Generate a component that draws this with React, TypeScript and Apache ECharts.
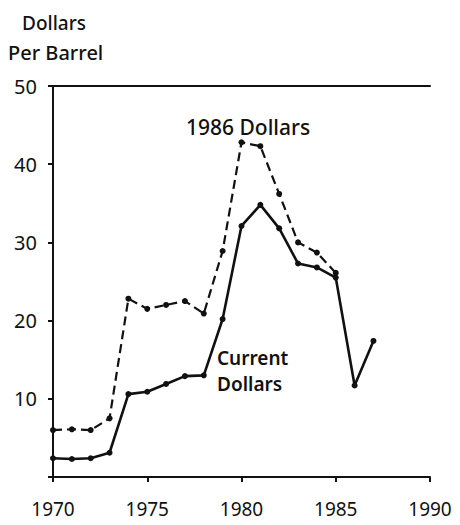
import React, { useEffect, useRef } from "react";
import * as echarts from "echarts";

const years = [1970, 1971, 1972, 1973, 1974, 1975, 1976, 1977, 1978, 1979, 1980, 1981, 1982, 1983, 1984, 1985, 1986, 1987];
const current = [2.4, 2.3, 2.4, 3.1, 10.6, 10.9, 11.9, 12.9, 13.0, 20.2, 32.1, 34.8, 31.8, 27.3, 26.8, 25.5, 11.7, 17.4];
const real1986 = [6.0, 6.1, 6.0, 7.5, 22.8, 21.5, 22.0, 22.5, 20.9, 28.9, 42.8, 42.3, 36.2, 30.0, 28.7, 26.1];
const yTicks = [10, 20, 30, 40, 50];
const xTicks = [1970, 1975, 1980, 1985, 1990];

const FONT = "'Noto Sans', sans-serif";

export default function App() {
  const ref = useRef<HTMLDivElement>(null);
  useEffect(() => {
    if (!ref.current) return;
    const chart = echarts.init(ref.current, null, { renderer: "svg" });
    const axisLine = { show: true, lineStyle: { color: "#111", width: 2 } };
    const txt = (text: string, x: number, y: number, size: number, weight: number) => ({
      type: "text",
      x,
      y,
      style: {
        text,
        font: `${weight} ${size}px ${FONT}`,
        fill: "#111",
        align: "left",
        verticalAlign: "middle",
        lineHeight: size,
      },
    });
    chart.setOption({
      animation: false,
      backgroundColor: "#fff",
      textStyle: { fontFamily: FONT, color: "#111" },
      grid: { left: 53, top: 86, right: 30, bottom: 48 },
      xAxis: [
        {
          type: "value",
          min: 1970,
          max: 1990,
          interval: 5,
          axisLine,
          axisTick: { show: true, length: 5, lineStyle: { color: "#111", width: 2 } },
          splitLine: { show: false },
          axisLabel: {
            fontSize: 19,
            color: "#111",
            margin: 22,
            fontFamily: FONT,
            formatter: (v: number) => (xTicks.includes(v) ? String(v) : ""),
          },
        },
        {
          type: "value",
          position: "top",
          min: 1970,
          max: 1990,
          interval: 5,
          axisLine,
          axisTick: { show: false },
          axisLabel: { show: false },
          splitLine: { show: false },
        },
      ],
      yAxis: {
        type: "value",
        min: 0,
        max: 50,
        interval: 10,
        axisLine,
        axisTick: { show: true, length: 5, lineStyle: { color: "#111", width: 2 } },
        splitLine: { show: false },
        axisLabel: {
          fontSize: 20,
          color: "#111",
          margin: 16,
          fontFamily: FONT,
          formatter: (v: number) => (yTicks.includes(v) ? String(v) : ""),
        },
      },
      graphic: [
        txt("Dollars", 22, 23, 19, 500),
        txt("Per Barrel", 8, 52, 20, 500),
        txt("1986 Dollars", 186, 127, 21, 500),
        txt("Current", 217, 358, 19, 600),
        txt("Dollars", 217, 384, 19, 600),
      ],
      series: [
        {
          name: "1986 Dollars",
          type: "line",
          data: real1986.map((v, i) => [years[i], v]),
          symbol: "circle",
          symbolSize: 6,
          itemStyle: { color: "#111" },
          lineStyle: { color: "#111", width: 2.2, type: [9, 5] },
        },
        {
          name: "Current Dollars",
          type: "line",
          data: current.map((v, i) => [years[i], v]),
          symbol: "circle",
          symbolSize: 6,
          itemStyle: { color: "#111" },
          lineStyle: { color: "#111", width: 2.6 },
        },
      ],
    });
    return () => chart.dispose();
  }, []);
  return <div ref={ref} style={{ position: "fixed", left: 0, top: 0, width: 460, height: 525 }} />;
}
